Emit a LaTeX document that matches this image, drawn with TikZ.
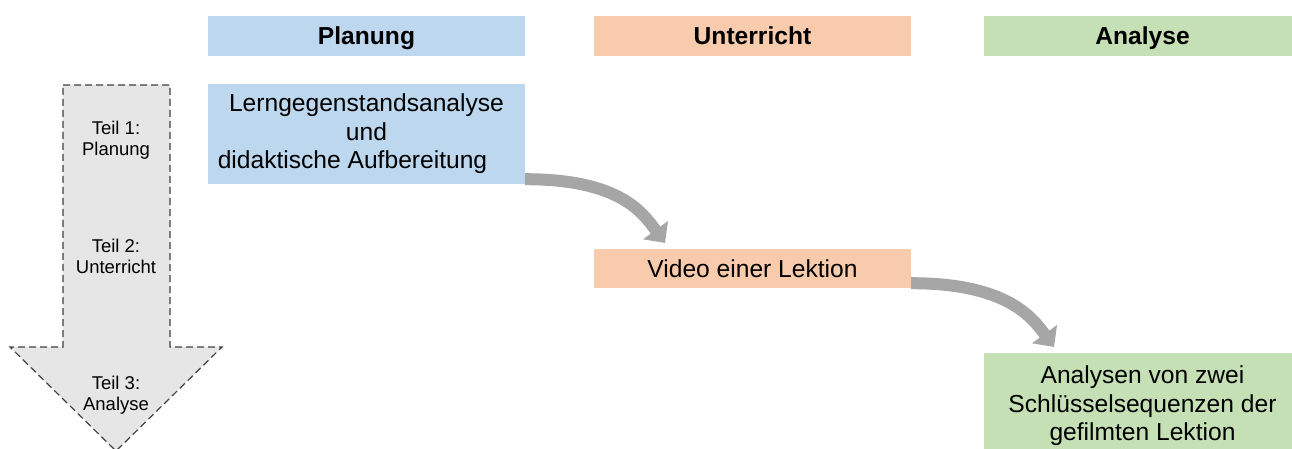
\documentclass[tikz,border=0pt]{standalone}
\usepackage{fontspec}
\setmainfont{Liberation Sans}
\usetikzlibrary{arrows.meta,calc}
\definecolor{cblue}{HTML}{BDD7EE}
\definecolor{corange}{HTML}{F8CBAD}
\definecolor{cgreen}{HTML}{C5E0B4}
\definecolor{carrow}{HTML}{A6A6A6}
\definecolor{cbig}{HTML}{E7E6E6}
\definecolor{cdash}{HTML}{404040}
\tikzset{
  box/.style={inner sep=0pt, minimum width=317pt, align=center,
    font=\fontsize{24.6}{28.5}\selectfont},
  head/.style={box, minimum height=40pt, text height=18pt, text depth=0pt,
    font=\fontsize{24.6}{28.5}\selectfont\bfseries},
  lbl/.style={inner sep=0pt, align=center, font=\fontsize{18.5}{21}\selectfont},
  flow/.style={draw=carrow, line width=12pt,
    -{Triangle[length=16pt,width=30pt]}},
}
\begin{document}
\begin{tikzpicture}[x=1pt,y=-1pt]
\useasboundingbox (0,0) rectangle (1292,449);
% big process arrow
\draw[fill=cbig, draw=cdash, line width=1.2pt, dash pattern=on 7pt off 4pt]
  (63,85) -- (170,85) -- (170,347) -- (222,347) -- (116,451) -- (10,347) -- (63,347) -- cycle;
\node[lbl] (t1) at (116,140) {Teil 1:\\Planung};
\node[lbl] (t2) at (116,256) {Teil 2:\\Unterricht};
\node[lbl] (t3) at (116,395) {Teil 3:\\Analyse};
% headers
\node[head, fill=cblue] (hp) at (366.5,36) {Planung};
\node[head, fill=corange] (hu) at (752.5,36) {Unterricht};
\node[head, fill=cgreen] (ha) at (1142.5,36) {Analyse};
% content boxes
\node[box, fill=cblue, minimum height=100pt] (lga) at (366.5,134)
  {Lerngegenstandsanalyse\\und\\didaktische Aufbereitung\hspace*{28pt}};
\node[box, fill=corange, minimum height=39pt, text height=17.5pt, text depth=0pt] (vid) at (752.5,268.5) {Video einer Lektion};
\node[box, fill=cgreen, minimum height=106pt] (ana) at (1142.5,406)
  {Analysen von zwei\\Schlüsselsequenzen der\\gefilmten Lektion};
% connectors
\coordinate (s1) at ($(lga.south east)+(0,-5)$);
\coordinate (e1) at (665,243);
\coordinate (s2) at ($(vid.south east)+(0,-5)$);
\coordinate (e2) at (1054,347);
\draw[flow] (s1) .. controls ($(s1)+(95,0)$) and ($(e1)+(-22,-30)$) .. (e1);
\draw[flow] (s2) .. controls ($(s2)+(95,0)$) and ($(e2)+(-22,-30)$) .. (e2);
\end{tikzpicture}
\end{document}
